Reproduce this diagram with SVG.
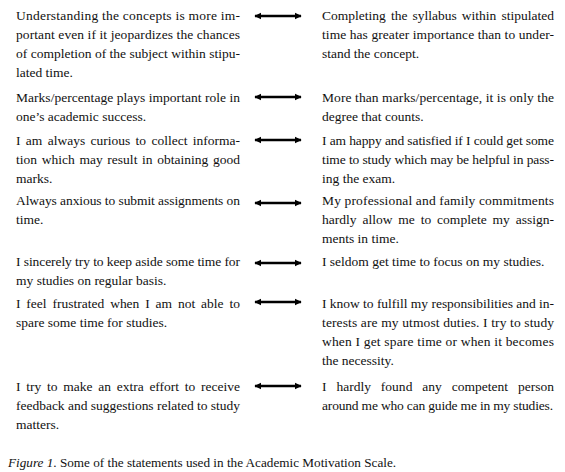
<svg xmlns="http://www.w3.org/2000/svg" width="565" height="472" viewBox="0 0 565 472">
<defs>
<marker id="ah" viewBox="0 0 10 10" refX="9" refY="5" markerWidth="3" markerHeight="3" orient="auto-start-reverse" markerUnits="strokeWidth">
<path d="M0,0 L10,5 L0,10 Z" fill="#000"/>
</marker>
<style>
text{font-family:"Liberation Serif","Times New Roman",serif;font-size:13.5px;fill:#111}
.cap{font-size:13.2px}
.arr{stroke:#000;stroke-width:2.4;fill:none;marker-start:url(#ah);marker-end:url(#ah)}
</style>
</defs>
<rect width="565" height="472" fill="#fff"/>
<g id="connectors">
<line class="arr" x1="255" y1="16" x2="301" y2="16"/>
<line class="arr" x1="255" y1="97" x2="301" y2="97"/>
<line class="arr" x1="255" y1="140" x2="301" y2="140"/>
<line class="arr" x1="255" y1="203" x2="301" y2="203"/>
<line class="arr" x1="255" y1="263" x2="301" y2="263"/>
<line class="arr" x1="255" y1="302" x2="301" y2="302"/>
<line class="arr" x1="255" y1="386" x2="301" y2="386"/>
</g>
<g id="row1-left">
<text x="16" y="19.5" textLength="224" lengthAdjust="spacing">Understanding the concepts is more im-</text>
<text x="16" y="38.5" textLength="224" lengthAdjust="spacing">portant even if it jeopardizes the chances</text>
<text x="16" y="57.5" textLength="224" lengthAdjust="spacing">of completion of the subject within stipu-</text>
<text x="16" y="76.5">lated time.</text>
</g>
<g id="row1-right">
<text x="322" y="19.5" textLength="232" lengthAdjust="spacing" word-spacing="1.7">Completing the syllabus within stipulated</text>
<text x="322" y="38.5" textLength="232" lengthAdjust="spacing">time has greater importance than to under-</text>
<text x="322" y="57.5">stand the concept.</text>
</g>
<g id="row2-left">
<text x="16" y="101.5" textLength="224" lengthAdjust="spacing">Marks/percentage plays important role in</text>
<text x="16" y="120.5">one’s academic success.</text>
</g>
<g id="row2-right">
<text x="322" y="101.5" textLength="232" lengthAdjust="spacing">More than marks/percentage, it is only the</text>
<text x="322" y="120.5">degree that counts.</text>
</g>
<g id="row3-left">
<text x="16" y="144.5" textLength="224" lengthAdjust="spacing" word-spacing="2">I am always curious to collect informa-</text>
<text x="16" y="163.5" textLength="224" lengthAdjust="spacing" word-spacing="1.3">tion which may result in obtaining good</text>
<text x="16" y="182.5">marks.</text>
</g>
<g id="row3-right">
<text x="322" y="144.5" textLength="232" lengthAdjust="spacing">I am happy and satisfied if I could get some</text>
<text x="322" y="163.5" textLength="232" lengthAdjust="spacing">time to study which may be helpful in pass-</text>
<text x="322" y="182.5">ing the exam.</text>
</g>
<g id="row4-left">
<text x="16" y="204.5" textLength="224" lengthAdjust="spacing">Always anxious to submit assignments on</text>
<text x="16" y="223.5">time.</text>
</g>
<g id="row4-right">
<text x="322" y="204.5" textLength="232" lengthAdjust="spacing">My professional and family commitments</text>
<text x="322" y="223.5" textLength="232" lengthAdjust="spacing" word-spacing="2.5">hardly allow me to complete my assign-</text>
<text x="322" y="242.5">ments in time.</text>
</g>
<g id="row5-left">
<text x="16" y="265.5" textLength="224" lengthAdjust="spacing">I sincerely try to keep aside some time for</text>
<text x="16" y="284.5">my studies on regular basis.</text>
</g>
<g id="row5-right">
<text x="322" y="265.5">I seldom get time to focus on my studies.</text>
</g>
<g id="row6-left">
<text x="16" y="308" textLength="224" lengthAdjust="spacing" word-spacing="2.5">I feel frustrated when I am not able to</text>
<text x="16" y="327">spare some time for studies.</text>
</g>
<g id="row6-right">
<text x="322" y="308" textLength="232" lengthAdjust="spacing">I know to fulfill my responsibilities and in-</text>
<text x="322" y="327" textLength="232" lengthAdjust="spacing">terests are my utmost duties. I try to study</text>
<text x="322" y="346" textLength="232" lengthAdjust="spacing">when I get spare time or when it becomes</text>
<text x="322" y="365">the necessity.</text>
</g>
<g id="row7-left">
<text x="16" y="390.5" textLength="224" lengthAdjust="spacing" word-spacing="2.4">I try to make an extra effort to receive</text>
<text x="16" y="409.5" textLength="224" lengthAdjust="spacing">feedback and suggestions related to study</text>
<text x="16" y="428.5">matters.</text>
</g>
<g id="row7-right">
<text x="322" y="390.5" textLength="232" lengthAdjust="spacing" word-spacing="6.5">I hardly found any competent person</text>
<text x="322" y="409.5" textLength="231" lengthAdjust="spacing">around me who can guide me in my studies.</text>
</g>
<g id="caption">
<text class="cap" x="8" y="466.5"><tspan font-style="italic">Figure 1</tspan>. Some of the statements used in the Academic Motivation Scale.</text>
</g>
</svg>
